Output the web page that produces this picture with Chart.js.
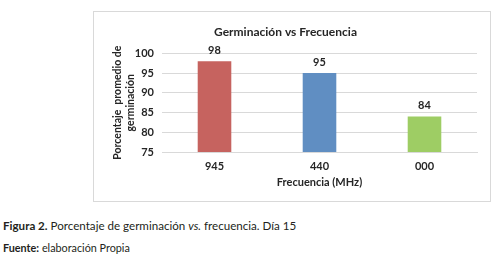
<!DOCTYPE html>
<html>
<head>
<meta charset="utf-8">
<script src="https://cdn.jsdelivr.net/npm/chart.js@4"></script>
<style>
    html, body { margin: 0; padding: 0; background: #fff; }
    body { width: 500px; height: 257px; position: relative; overflow: hidden; font-family: Lato, sans-serif; }
    #box { position: absolute; left: 93px; top: 11px; width: 396px; height: 189px; border: 1px solid #d9d9d9; }
    #box canvas { display: block; }
    .caption { position: absolute; left: 3px; color: #231f20; white-space: nowrap; }
    #fig { top: 219px; font-size: 11.6px; }
    #src { top: 241px; font-size: 10.8px; }
</style>
</head>
<body>
<div id="box"><canvas id="myChart" width="396" height="189"></canvas></div>
<div class="caption" id="fig"><b>Figura 2.</b> Porcentaje de germinación <i>vs.</i> frecuencia. Día 15</div>
<div class="caption" id="src"><b>Fuente:</b> elaboración Propia</div>
<script>
const frecuencias = ['945', '440', '000'];
const germinacion = [98, 95, 84];
const yTicks = [75, 80, 85, 90, 95, 100];

const barColors = ['rgb(198, 99, 95)', 'rgb(96, 142, 194)', 'rgb(158, 205, 100)'];

// etiquetas de valor encima de cada barra
const valueLabels = {
    id: 'valueLabels',
    afterDatasetsDraw(chart) {
        const ctx = chart.ctx;
        const meta = chart.getDatasetMeta(0);
        ctx.save();
        ctx.font = 'bold 11px Lato, sans-serif';
        ctx.fillStyle = '#262626';
        ctx.textAlign = 'center';
        ctx.textBaseline = 'middle';
        meta.data.forEach((bar, i) => {
            ctx.fillText(String(germinacion[i]), bar.x, bar.y - 11);
        });
        ctx.restore();
    }
};

const chartData = {
    labels: frecuencias,
    datasets: [{
        data: germinacion,
        backgroundColor: barColors,
        borderWidth: 0,
        categoryPercentage: 1,
        barPercentage: 0.32
    }]
};

const config = {
    type: 'bar',
    data: chartData,
    plugins: [valueLabels],
    options: {
        responsive: false,
        animation: false,
        layout: {
            padding: { top: 0, right: 13, bottom: 12, left: 0 }
        },
        plugins: {
            legend: { display: false },
            tooltip: { enabled: false },
            title: {
                display: true,
                text: 'Germinación vs Frecuencia',
                color: '#262626',
                font: { family: 'Lato, sans-serif', size: 12, weight: 'bold' },
                padding: { top: 13, bottom: 14 }
            }
        },
        scales: {
            x: {
                grid: { display: false, drawTicks: false },
                border: { display: true, color: '#d9d9d9' },
                ticks: {
                    color: '#262626',
                    padding: 8,
                    font: { family: 'Lato, sans-serif', size: 11, weight: 'bold' }
                },
                title: {
                    display: true,
                    text: 'Frecuencia (MHz)',
                    color: '#262626',
                    padding: { top: 2, bottom: 0 },
                    font: { family: 'Lato, sans-serif', size: 11, weight: 'bold' }
                },
                afterFit(scale) { scale.height = 37; }
            },
            y: {
                min: 75,
                max: 100,
                afterBuildTicks(scale) { scale.ticks = yTicks.map(v => ({ value: v })); },
                grid: { color: '#d9d9d9', drawTicks: false },
                border: { display: false },
                ticks: {
                    color: '#262626',
                    padding: 8,
                    font: { family: 'Lato, sans-serif', size: 11, weight: 'bold' }
                },
                title: {
                    display: true,
                    text: ['Porcentaje  promedio de', 'germinación'],
                    color: '#262626',
                    padding: { top: 17, bottom: 0 },
                    font: { family: 'Lato, sans-serif', size: 10.5, weight: 'bold', lineHeight: 1.25 }
                },
                afterFit(scale) { scale.width = 68; }
            }
        }
    }
};

const ctx = document.getElementById('myChart').getContext('2d');

if (ctx) {
    new Chart(ctx, config);
}
</script>
</body>
</html>
